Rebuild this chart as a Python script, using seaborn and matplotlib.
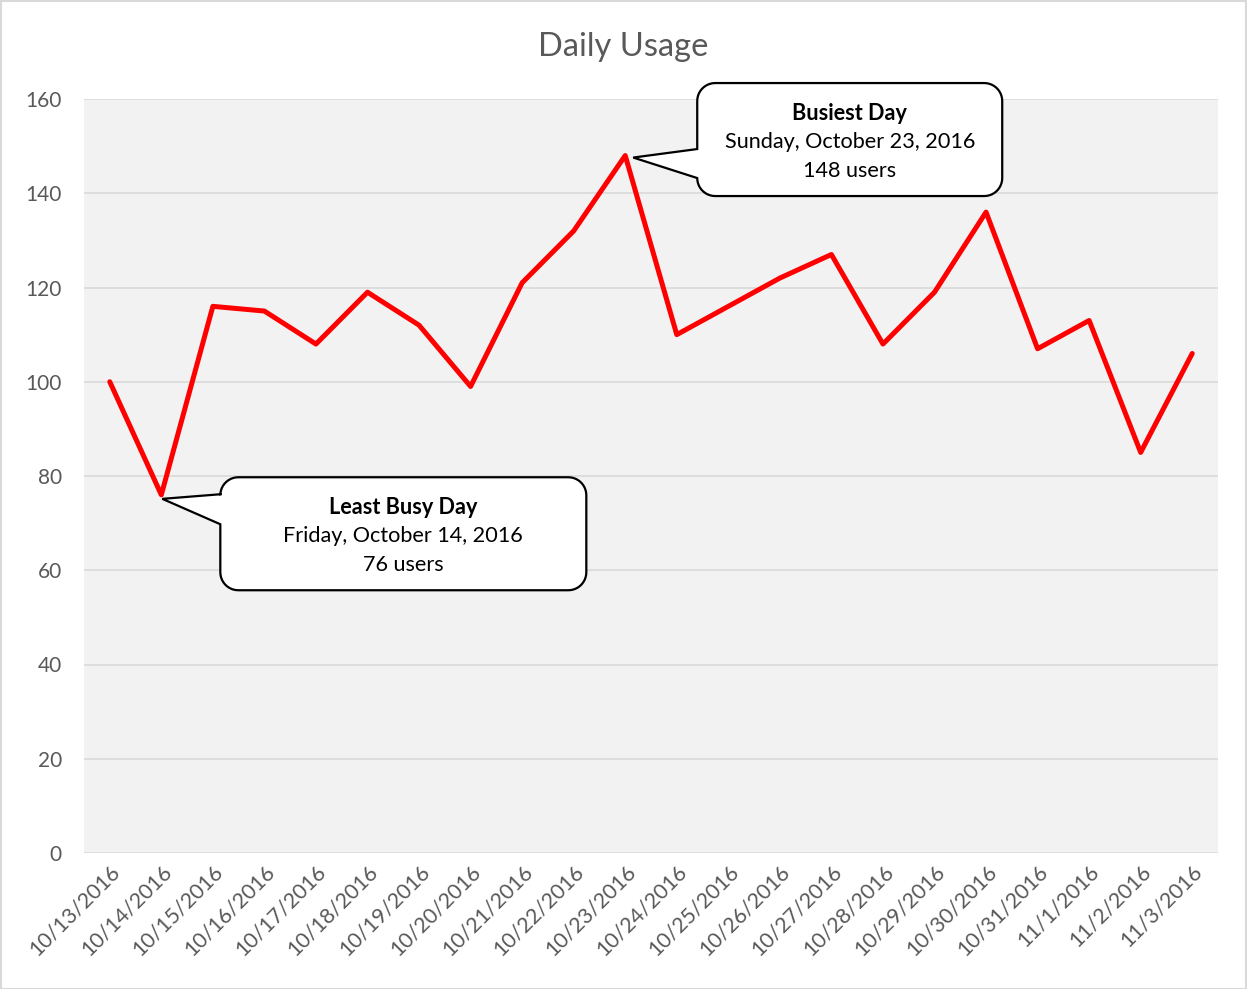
import numpy as np
import pandas as pd
import matplotlib
matplotlib.use("Agg")
import matplotlib.pyplot as plt
import seaborn as sns
from matplotlib.path import Path
from matplotlib.patches import PathPatch, Rectangle
from matplotlib.transforms import IdentityTransform

# data
dates = ["10/13/2016", "10/14/2016", "10/15/2016", "10/16/2016", "10/17/2016",
         "10/18/2016", "10/19/2016", "10/20/2016", "10/21/2016", "10/22/2016",
         "10/23/2016", "10/24/2016", "10/25/2016", "10/26/2016", "10/27/2016",
         "10/28/2016", "10/29/2016", "10/30/2016", "10/31/2016", "11/1/2016",
         "11/2/2016", "11/3/2016"]
users = [100, 76, 116, 115, 108, 119, 112, 99, 121, 132, 148,
         110, 116, 122, 127, 108, 119, 136, 107, 113, 85, 106]
y_ticks = [0, 20, 40, 60, 80, 100, 120, 140, 160]

W, H = 1247, 989
GREY_TXT = "#595959"

sns.set_theme(style="white")
plt.rcParams["font.family"] = ["Lato", "DejaVu Sans"]

df = pd.DataFrame({"date": dates, "users": users})
df["pos"] = np.arange(len(df))

fig = plt.figure(figsize=(W / 100, H / 100), dpi=100)
fig.patch.set_facecolor("white")
ax = fig.add_axes([84 / W, 1 - 853 / H, (1218 - 84) / W, (853 - 99) / H])
ax.set_facecolor("#F2F2F2")

sns.lineplot(data=df, x="pos", y="users", ax=ax, color="#FF0000",
             linewidth=3.6, solid_capstyle="round", solid_joinstyle="round",
             zorder=3)

ax.set_xlim(-0.5, len(df) - 0.5)
ax.set_ylim(0, 160)
ax.set_yticks(y_ticks)
ax.set_yticklabels([str(t) for t in y_ticks], fontsize=15, color=GREY_TXT)
ax.set_xticks(df["pos"])
ax.set_xticklabels(df["date"], rotation=45, ha="right", va="top",
                   rotation_mode="anchor", fontsize=15.5, color=GREY_TXT)
ax.tick_params(axis="both", length=0)
ax.tick_params(axis="y", pad=16)
ax.tick_params(axis="x", pad=6)
ax.yaxis.grid(True, color="#D9D9D9", linewidth=1.2)
ax.xaxis.grid(False)
ax.set_axisbelow(True)
for s in ax.spines.values():
    s.set_visible(False)
ax.set_xlabel("")
ax.set_ylabel("")

fig.text(0.5, 1 - 47 / H, "Daily Usage", ha="center", va="center",
         fontsize=23.5, color=GREY_TXT)

# outer chart border
fig.patches.append(Rectangle((0.5, 0.5), W - 1.5, H - 1.5, transform=IdentityTransform(),
                             fill=False, edgecolor="#D9D9D9", linewidth=1.5))


def arc(cx, cy, r, a0, a1):
    t = np.radians(np.linspace(a0, a1, 12))
    return list(zip(cx + r * np.cos(t), cy + r * np.sin(t)))


def callout(i, tip_off, box, base, title, lines):
    # position in image pixels (y downward) from the data point
    px, py = ax.transData.transform((df["pos"][i], df["users"][i]))
    py = H - py
    tx, ty = px + tip_off[0], py + tip_off[1]
    x0, x1 = px + box[0], px + box[1]
    y0, y1 = py + box[2], py + box[3]
    ya, yb = py + base[0], py + base[1]
    r = 18
    pts = [(tx, ty), (x0, ya), (x0, y0 + r)]
    pts += arc(x0 + r, y0 + r, r, 180, 270)
    pts += [(x1 - r, y0)]
    pts += arc(x1 - r, y0 + r, r, 270, 360)
    pts += [(x1, y1 - r)]
    pts += arc(x1 - r, y1 - r, r, 0, 90)
    pts += [(x0 + r, y1)]
    pts += arc(x0 + r, y1 - r, r, 90, 180)
    pts += [(x0, yb), (tx, ty)]
    verts = [(x, H - y) for x, y in pts]
    codes = [Path.MOVETO] + [Path.LINETO] * (len(verts) - 2) + [Path.CLOSEPOLY]
    fig.patches.append(PathPatch(Path(verts, codes), transform=IdentityTransform(),
                                 facecolor="white", edgecolor="black",
                                 linewidth=1.6, zorder=5))
    cx = (x0 + x1) / 2
    cy = (y0 + y1) / 2 + 2.5
    texts = [title] + lines
    for k, s in enumerate(texts):
        fig.text(cx / W, 1 - (cy + (k - 1) * 29) / H, s, ha="center", va="center",
                 fontsize=15.6, color="black",
                 fontweight="bold" if k == 0 else "normal", zorder=6)


imax = df["users"].idxmax()
imin = df["users"].idxmin()
dmax = pd.to_datetime(df["date"][imax], format="%m/%d/%Y")
dmin = pd.to_datetime(df["date"][imin], format="%m/%d/%Y")

callout(imax, (8, 2), (72, 377, -72.5, 40.5), (-6.5, 22.5), "Busiest Day",
        [dmax.strftime("%A, %B %d, %Y"), f"{df['users'][imax]} users"])
callout(imin, (1, 4), (59, 425, -17.6, 95.4), (-0.6, 29.4), "Least Busy Day",
        [dmin.strftime("%A, %B %d, %Y"), f"{df['users'][imin]} users"])

fig.savefig("out.png", dpi=100)
plt.close(fig)
